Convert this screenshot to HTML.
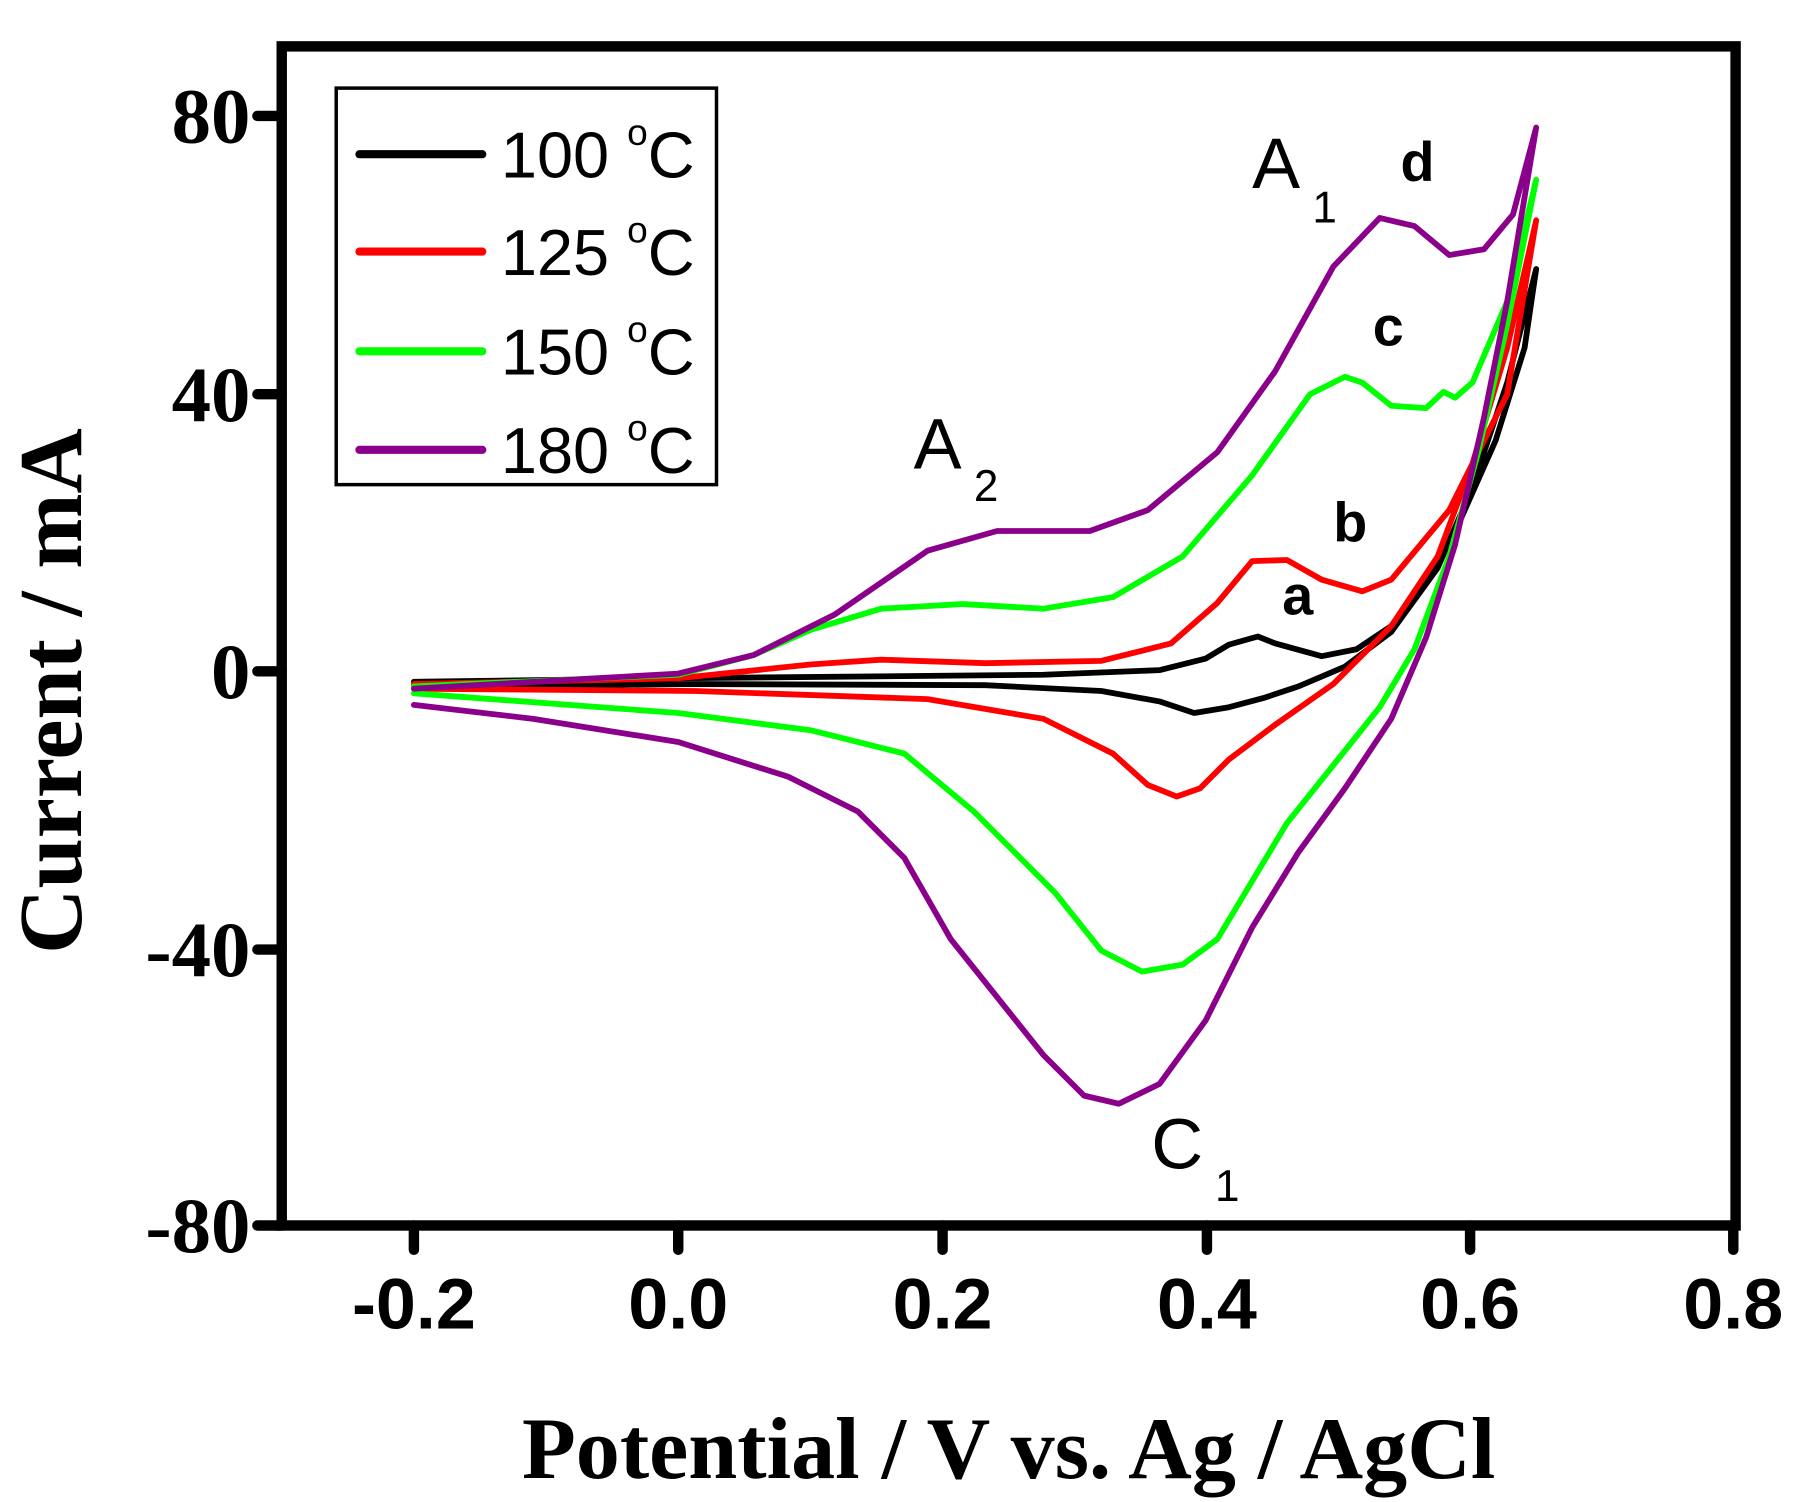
<!DOCTYPE html>
<html><head><meta charset="utf-8"><style>html,body{margin:0;padding:0;background:#fff}svg{display:block}</style></head>
<body>
<svg width="1804" height="1502" viewBox="0 0 1556 1295.5" preserveAspectRatio="none" xmlns="http://www.w3.org/2000/svg">
<rect x="0" y="0" width="1556" height="1296" fill="#fff"/>
<g id="curves" fill="none" stroke-linejoin="round" stroke-linecap="round" stroke-width="5">
<polyline stroke="#000" points="357,588 585,585 900,582 1000,578 1040,568 1060,556 1085,549 1100,555 1140,566 1170,560 1200,540 1250,470 1290,380 1315,300 1325,232 1300,330 1270,420 1240,490 1200,545 1160,575 1120,592 1090,602 1060,610 1030,615 1000,605 950,596 850,591 600,590 357,592"/>
<polyline stroke="#ff0000" points="357,590 585,585 700,573 760,569 850,572 950,570 1010,555 1050,520 1080,484 1110,483 1140,500 1175,510 1200,500 1250,440 1300,340 1325,190 1300,300 1270,400 1240,480 1200,540 1150,590 1100,625 1060,655 1035,680 1015,687 990,677 960,650 900,620 800,603 600,596 357,594"/>
<polyline stroke="#00ff00" points="357,592 585,582 650,565 700,543 760,525 830,521 900,525 960,515 1020,480 1080,410 1130,340 1160,325 1175,330 1200,350 1230,352 1245,338 1255,343 1270,330 1300,260 1325,155 1300,280 1275,390 1250,480 1220,560 1190,610 1150,660 1110,710 1080,760 1050,810 1020,832 985,838 950,820 910,770 880,740 840,700 780,650 700,630 585,615 357,598"/>
<polyline stroke="#8b008b" points="357,594 585,581 650,565 720,530 800,475 860,458 940,458 990,440 1050,390 1100,320 1150,230 1190,188 1220,195 1250,220 1280,215 1305,185 1325,110 1315,170 1300,260 1280,360 1255,470 1230,550 1200,620 1160,680 1120,735 1080,800 1040,880 1000,935 965,952 935,945 900,910 860,860 820,810 780,740 740,700 680,670 585,640 460,620 357,608"/>
</g>
<rect x="243" y="40" width="1254" height="1017" fill="none" stroke="#000" stroke-width="9"/>
<g stroke="#000" stroke-width="9" stroke-linecap="round">
<line x1="222" y1="100" x2="243" y2="100"/><line x1="222" y1="340" x2="243" y2="340"/><line x1="222" y1="579" x2="243" y2="579"/><line x1="222" y1="819" x2="243" y2="819"/><line x1="222" y1="1057" x2="243" y2="1057"/>
<line x1="357" y1="1057" x2="357" y2="1078"/><line x1="585" y1="1057" x2="585" y2="1078"/><line x1="813" y1="1057" x2="813" y2="1078"/><line x1="1041" y1="1057" x2="1041" y2="1078"/><line x1="1268" y1="1057" x2="1268" y2="1078"/><line x1="1495" y1="1057" x2="1495" y2="1078"/>
</g>
<g font-family="Liberation Serif, serif" font-weight="bold" font-size="68" text-anchor="end">
<text x="216" y="123">80</text><text x="216" y="363">40</text><text x="216" y="602">0</text><text x="216" y="842">-40</text><text x="216" y="1080">-80</text>
</g>
<g font-family="Liberation Sans, sans-serif" font-weight="bold" font-size="62" text-anchor="middle">
<text x="357" y="1146">-0.2</text><text x="585" y="1146">0.0</text><text x="813" y="1146">0.2</text><text x="1041" y="1146">0.4</text><text x="1268" y="1146">0.6</text><text x="1495" y="1146">0.8</text>
</g>
<text x="870" y="1275" font-family="Liberation Serif, serif" font-weight="bold" font-size="76" text-anchor="middle">Potential / V vs. Ag / AgCl</text>
<text transform="translate(70,596) rotate(-90)" font-family="Liberation Serif, serif" font-weight="bold" font-size="78" text-anchor="middle">Current / mA</text>
<rect x="290" y="76" width="328" height="342" fill="#fff" stroke="#000" stroke-width="3"/>
<g stroke-width="7" stroke-linecap="round">
<line x1="310" y1="133" x2="416" y2="133" stroke="#000"/>
<line x1="310" y1="217" x2="416" y2="217" stroke="#ff0000"/>
<line x1="310" y1="303" x2="416" y2="303" stroke="#00ff00"/>
<line x1="310" y1="388" x2="416" y2="388" stroke="#8b008b"/>
</g>
<g font-family="Liberation Sans, sans-serif" font-size="56">
<text x="432" y="153">100 <tspan font-size="32" dy="-28">o</tspan><tspan dy="28">C</tspan></text>
<text x="432" y="237">125 <tspan font-size="32" dy="-28">o</tspan><tspan dy="28">C</tspan></text>
<text x="432" y="323">150 <tspan font-size="32" dy="-28">o</tspan><tspan dy="28">C</tspan></text>
<text x="432" y="408">180 <tspan font-size="32" dy="-28">o</tspan><tspan dy="28">C</tspan></text>
</g>
<g font-family="Liberation Sans, sans-serif" font-size="62">
<text x="1080" y="162">A</text><text x="1132" y="192" font-size="38">1</text>
<text x="788" y="404">A</text><text x="840" y="432" font-size="38">2</text>
<text x="993" y="1008">C</text><text x="1048" y="1036" font-size="38">1</text>
</g>
<g font-family="Liberation Sans, sans-serif" font-size="48" font-weight="bold">
<text x="1208" y="156">d</text><text x="1184" y="298">c</text><text x="1150" y="467">b</text><text x="1106" y="530">a</text>
</g>
</svg>
</body></html>
